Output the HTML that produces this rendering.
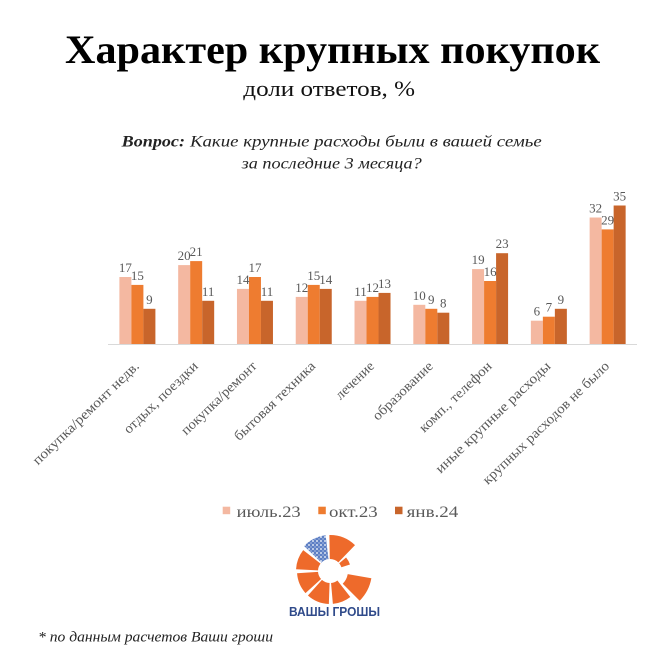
<!DOCTYPE html>
<html>
<head>
<meta charset="utf-8">
<style>
html,body{margin:0;padding:0;background:#fff;}
svg{display:block;}
.serif{font-family:"Liberation Serif","Noto Serif CJK SC",serif;}
.lbl{font-family:"Liberation Serif","Noto Serif CJK SC",serif;font-size:14px;fill:#595959;}
.dl{font-family:"Liberation Serif","Noto Serif CJK SC",serif;font-size:13px;fill:#595959;text-anchor:middle;}
</style>
</head>
<body>
<svg width="662" height="662" viewBox="0 0 662 662" xmlns="http://www.w3.org/2000/svg">
<defs>
<pattern id="snow" width="4" height="4" patternUnits="userSpaceOnUse">
<rect width="4" height="4" fill="#5d7fc4"/>
<circle cx="1" cy="1" r="0.9" fill="#ffffff"/>
<circle cx="3" cy="3" r="0.6" fill="#dbe4f5"/>
</pattern>
</defs>
<rect width="662" height="662" fill="#ffffff"/>

<!-- Titles -->
<text class="serif" x="65" y="63" font-size="40" font-weight="bold" fill="#000" textLength="535" lengthAdjust="spacingAndGlyphs">Характер крупных покупок</text>
<text class="serif" x="243.3" y="96" font-size="22" fill="#111" textLength="171.7" lengthAdjust="spacingAndGlyphs">доли ответов, %</text>
<text class="serif" x="121.7" y="146.7" font-size="16" font-weight="bold" font-style="italic" fill="#222" textLength="63.3" lengthAdjust="spacingAndGlyphs">Вопрос:</text>
<text class="serif" x="190" y="146.7" font-size="16" font-style="italic" fill="#222" textLength="351.7" lengthAdjust="spacingAndGlyphs">Какие крупные расходы были в вашей семье</text>
<text class="serif" x="241.7" y="168.3" font-size="16" font-style="italic" fill="#222" textLength="180" lengthAdjust="spacingAndGlyphs">за последние 3 месяца?</text>

<!-- Bars -->
<g>
<rect x="119.4" y="277.0" width="12" height="67.5" fill="#F4B8A1"/>
<rect x="131.4" y="284.9" width="12" height="59.6" fill="#EE7C30"/>
<rect x="143.4" y="308.8" width="12" height="35.7" fill="#C8652B"/>
<rect x="178.18" y="265.1" width="12" height="79.4" fill="#F4B8A1"/>
<rect x="190.18" y="261.1" width="12" height="83.4" fill="#EE7C30"/>
<rect x="202.18" y="300.8" width="12" height="43.7" fill="#C8652B"/>
<rect x="236.96" y="288.9" width="12" height="55.6" fill="#F4B8A1"/>
<rect x="248.96" y="277.0" width="12" height="67.5" fill="#EE7C30"/>
<rect x="260.96" y="300.8" width="12" height="43.7" fill="#C8652B"/>
<rect x="295.74" y="296.9" width="12" height="47.6" fill="#F4B8A1"/>
<rect x="307.74" y="284.9" width="12" height="59.6" fill="#EE7C30"/>
<rect x="319.74" y="288.9" width="12" height="55.6" fill="#C8652B"/>
<rect x="354.52" y="300.8" width="12" height="43.7" fill="#F4B8A1"/>
<rect x="366.52" y="296.9" width="12" height="47.6" fill="#EE7C30"/>
<rect x="378.52" y="292.9" width="12" height="51.6" fill="#C8652B"/>
<rect x="413.3" y="304.8" width="12" height="39.7" fill="#F4B8A1"/>
<rect x="425.3" y="308.8" width="12" height="35.7" fill="#EE7C30"/>
<rect x="437.3" y="312.7" width="12" height="31.8" fill="#C8652B"/>
<rect x="472.08" y="269.1" width="12" height="75.4" fill="#F4B8A1"/>
<rect x="484.08" y="281.0" width="12" height="63.5" fill="#EE7C30"/>
<rect x="496.08" y="253.2" width="12" height="91.3" fill="#C8652B"/>
<rect x="530.86" y="320.7" width="12" height="23.8" fill="#F4B8A1"/>
<rect x="542.86" y="316.7" width="12" height="27.8" fill="#EE7C30"/>
<rect x="554.86" y="308.8" width="12" height="35.7" fill="#C8652B"/>
<rect x="589.64" y="217.5" width="12" height="127.0" fill="#F4B8A1"/>
<rect x="601.64" y="229.4" width="12" height="115.1" fill="#EE7C30"/>
<rect x="613.64" y="205.5" width="12" height="139.0" fill="#C8652B"/>
</g>

<line x1="108" y1="344.5" x2="637" y2="344.5" stroke="#D9D9D9" stroke-width="1"/>

<!-- Data labels -->
<g>
<text class="dl" x="125.4" y="272.0">17</text>
<text class="dl" x="137.4" y="279.9">15</text>
<text class="dl" x="149.4" y="303.8">9</text>
<text class="dl" x="184.18" y="260.1">20</text>
<text class="dl" x="196.18" y="256.1">21</text>
<text class="dl" x="208.18" y="295.8">11</text>
<text class="dl" x="242.96" y="283.9">14</text>
<text class="dl" x="254.96" y="272.0">17</text>
<text class="dl" x="266.96" y="295.8">11</text>
<text class="dl" x="301.74" y="291.9">12</text>
<text class="dl" x="313.74" y="279.9">15</text>
<text class="dl" x="325.74" y="283.9">14</text>
<text class="dl" x="360.52" y="295.8">11</text>
<text class="dl" x="372.52" y="291.9">12</text>
<text class="dl" x="384.52" y="287.9">13</text>
<text class="dl" x="419.3" y="299.8">10</text>
<text class="dl" x="431.3" y="303.8">9</text>
<text class="dl" x="443.3" y="307.7">8</text>
<text class="dl" x="478.08" y="264.1">19</text>
<text class="dl" x="490.08" y="276.0">16</text>
<text class="dl" x="502.08" y="248.2">23</text>
<text class="dl" x="536.86" y="315.7">6</text>
<text class="dl" x="548.86" y="311.7">7</text>
<text class="dl" x="560.86" y="303.8">9</text>
<text class="dl" x="595.64" y="212.5">32</text>
<text class="dl" x="607.64" y="224.4">29</text>
<text class="dl" x="619.64" y="200.5">35</text>
</g>

<!-- Category labels -->
<g text-anchor="end">
<text class="lbl" transform="translate(140,367) rotate(-44)" textLength="142" lengthAdjust="spacingAndGlyphs">покупка/ремонт недв.</text>
<text class="lbl" transform="translate(198.7,367) rotate(-44)" textLength="97" lengthAdjust="spacingAndGlyphs">отдых, поездки</text>
<text class="lbl" transform="translate(257.5,367) rotate(-44)" textLength="99" lengthAdjust="spacingAndGlyphs">покупка/ремонт</text>
<text class="lbl" transform="translate(316.2,367) rotate(-44)" textLength="107" lengthAdjust="spacingAndGlyphs">бытовая техника</text>
<text class="lbl" transform="translate(375,367) rotate(-44)" textLength="48" lengthAdjust="spacingAndGlyphs">лечение</text>
<text class="lbl" transform="translate(433.8,367) rotate(-44)" textLength="78" lengthAdjust="spacingAndGlyphs">образование</text>
<text class="lbl" transform="translate(492.6,367) rotate(-44)" textLength="95" lengthAdjust="spacingAndGlyphs">комп., телефон</text>
<text class="lbl" transform="translate(551.4,367) rotate(-44)" textLength="154" lengthAdjust="spacingAndGlyphs">иные крупные расходы</text>
<text class="lbl" transform="translate(610.1,367) rotate(-44)" textLength="170" lengthAdjust="spacingAndGlyphs">крупных расходов не было</text>
</g>

<!-- Legend -->
<rect x="222.7" y="506.7" width="7.5" height="7.5" fill="#F4B8A1"/>
<text class="serif" x="236.7" y="517" font-size="16" fill="#595959" textLength="64" lengthAdjust="spacingAndGlyphs">июль.23</text>
<rect x="318.3" y="506.7" width="7.5" height="7.5" fill="#EE7C30"/>
<text class="serif" x="329" y="517" font-size="16" fill="#595959" textLength="48.7" lengthAdjust="spacingAndGlyphs">окт.23</text>
<rect x="395" y="506.7" width="7.5" height="7.5" fill="#C8652B"/>
<text class="serif" x="406.7" y="517" font-size="16" fill="#595959" textLength="51.6" lengthAdjust="spacingAndGlyphs">янв.24</text>

<!-- Logo -->
<g fill="#EE6A2B">
<path d="M296.05 569.22 A34 34 0 0 1 303.21 550.07 L320.54 563.61 A12 12 0 0 0 318.02 570.37 Z"/>
<path d="M304.1 546.0 A36 36 0 0 1 325.61 535.27 L328.54 559.09 A12 12 0 0 0 321.37 562.66 Z" fill="url(#snow)"/>
<path d="M329.37 535.01 A36 36 0 0 1 355.01 545.1 L338.34 562.37 A12 12 0 0 0 329.79 559.0 Z"/>
<path d="M346.09 557.5 A21 21 0 0 1 349.97 564.51 L341.41 567.29 A12 12 0 0 0 339.19 563.29 Z"/>
<path d="M371.36 578.29 A42 42 0 0 1 359.7 600.7 L342.73 583.73 A18 18 0 0 0 347.73 574.13 Z"/>
<path d="M350.32 597.0 A33 33 0 0 1 332.88 603.87 L331.05 582.95 A12 12 0 0 0 337.39 580.46 Z"/>
<path d="M328.85 603.98 A33 33 0 0 1 307.92 595.52 L321.97 579.92 A12 12 0 0 0 329.58 582.99 Z"/>
<path d="M305.48 593.08 A33 33 0 0 1 297.08 573.3 L318.03 571.84 A12 12 0 0 0 321.08 579.03 Z"/>
</g>
<text x="289" y="616" font-family="Liberation Sans, sans-serif" font-size="12.5" font-weight="bold" fill="#2F4A8A" textLength="91" lengthAdjust="spacingAndGlyphs">ВАШЫ ГРОШЫ</text>

<!-- Footnote -->
<text class="serif" x="38" y="641.7" font-size="15" font-style="italic" fill="#222" textLength="235" lengthAdjust="spacingAndGlyphs">* по данным расчетов Ваши гроши</text>
</svg>
</body>
</html>
